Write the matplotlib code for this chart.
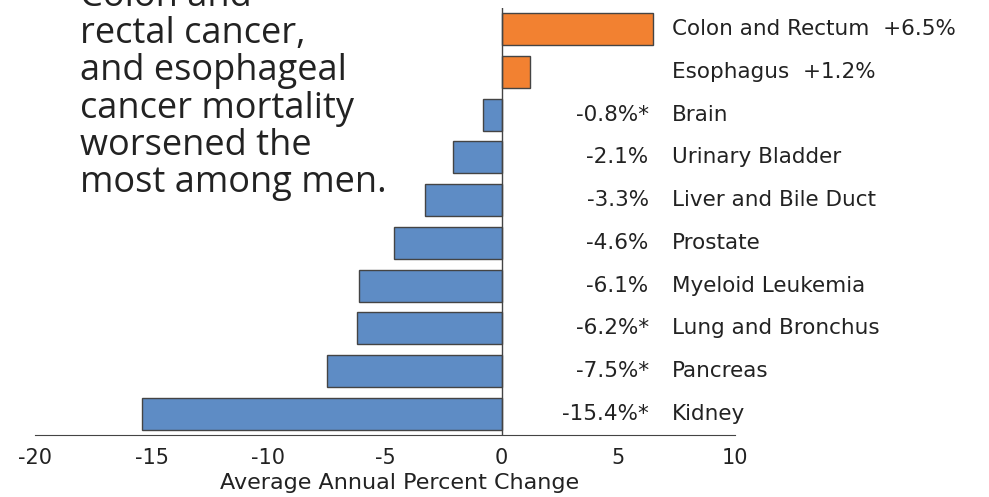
import matplotlib.pyplot as plt

sites = ["Colon and Rectum", "Esophagus", "Brain", "Urinary Bladder",
         "Liver and Bile Duct", "Prostate", "Myeloid Leukemia",
         "Lung and Bronchus", "Pancreas", "Kidney"]
apc = [6.5, 1.2, -0.8, -2.1, -3.3, -4.6, -6.1, -6.2, -7.5, -15.4]
apc_labels = ["+6.5%", "+1.2%", "-0.8%*", "-2.1%", "-3.3%", "-4.6%",
              "-6.1%", "-6.2%*", "-7.5%*", "-15.4%*"]
xticks = [-20, -15, -10, -5, 0, 5, 10]
title_lines = ["Colon and", "rectal cancer,", "and esophageal",
               "cancer mortality", "worsened the", "most among men."]

ORANGE = "#F28131"
BLUE = "#5E8CC5"
TEXT = "#222222"
EDGE = "#444444"

plt.rcParams["font.family"] = ["DejaVu Sans"]

W, H = 989, 497
fig = plt.figure(figsize=(W / 100, H / 100), dpi=100)
ax = fig.add_axes([35 / W, 1 - 435 / H, 700 / W, 427 / H])

ypos = list(range(len(sites)))
colors = [ORANGE if v > 0 else BLUE for v in apc]
ax.barh(ypos, apc, height=0.75, color=colors, edgecolor=EDGE, linewidth=1)
ax.axvline(0, color=EDGE, linewidth=1)

# labels right of the zero line: value (right aligned) then site name
lab_size = 15.5
for y, name, v, lab in zip(ypos, sites, apc, apc_labels):
    if v > 0:
        ax.text(7.3, y, f"{name}  {lab}", ha="left", va="center",
                fontsize=lab_size, color=TEXT, clip_on=False)
    else:
        ax.text(6.3, y, lab, ha="right", va="center", fontsize=lab_size,
                color=TEXT, clip_on=False)
        ax.text(7.3, y, name, ha="left", va="center", fontsize=lab_size,
                color=TEXT, clip_on=False)

ax.set_xlim(-20, 10)
ax.set_ylim(len(sites) - 0.5, -0.5)
ax.set_xticks(xticks)
ax.set_xticklabels([str(t) for t in xticks], fontsize=15, color=TEXT)
ax.tick_params(axis="x", length=0, pad=9)
ax.set_yticks([])
for s in ["top", "right", "left"]:
    ax.spines[s].set_visible(False)
ax.spines["bottom"].set_color(EDGE)
ax.set_xlabel("Average Annual Percent Change", fontsize=16, color=TEXT)
ax.xaxis.set_label_coords((400 - 35) / 700, -0.09)

# annotation, top line runs off the top of the figure as in the source
for i, line in enumerate(title_lines):
    fig.text(80 / W, 1 - (6 + 37.2 * i) / H, line, ha="left",
             va="baseline", fontsize=26, color=TEXT,
             family=["Open Sans", "DejaVu Sans"])

fig.savefig("out.png", dpi=100)
